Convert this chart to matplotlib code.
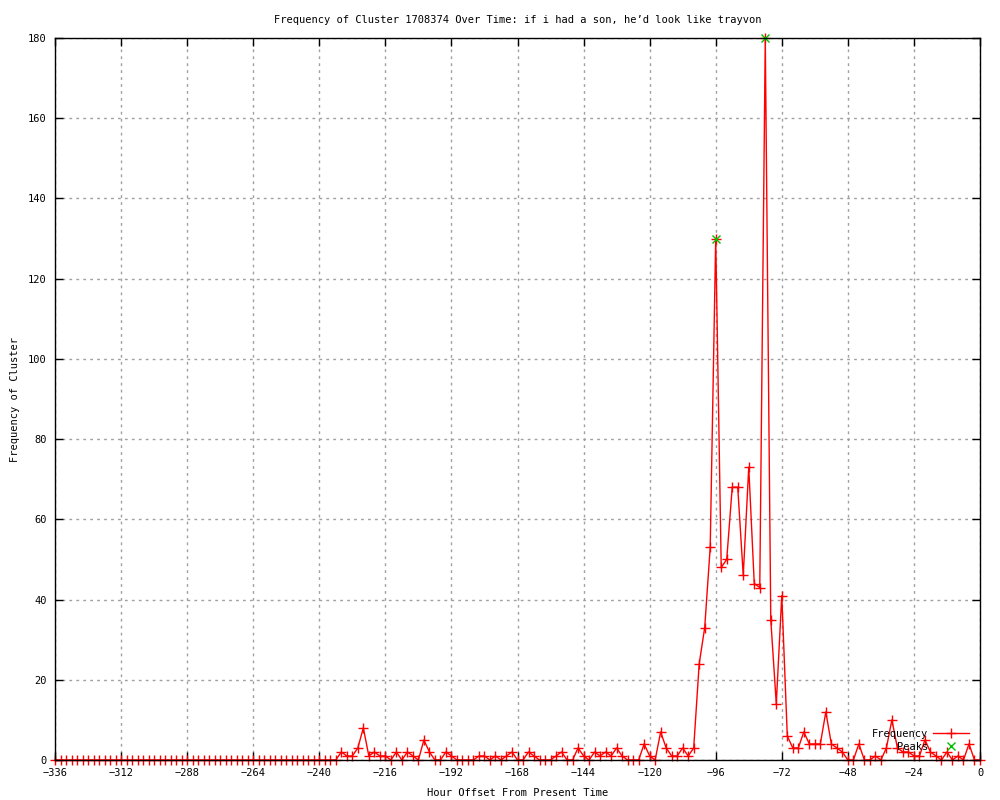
import matplotlib
matplotlib.use('Agg')
import matplotlib.pyplot as plt

# hour offsets, one point every 2 hours
hours = list(range(-336, 1, 2))

# cluster frequency per point
freq = [
    0, 0, 0, 0, 0, 0, 0, 0, 0, 0, 0, 0, 0,  # -336 .. -312
    0, 0, 0, 0, 0, 0, 0, 0, 0, 0, 0, 0,     # -310 .. -288
    0, 0, 0, 0, 0, 0, 0, 0, 0, 0, 0, 0,     # -286 .. -264
    0, 0, 0, 0, 0, 0, 0, 0, 0, 0, 0, 0,     # -262 .. -240
    0, 0, 0,                                # -238 .. -234
    2, 1, 1, 3, 8, 1, 2, 1, 1, 0,
    2, 0, 2, 1, 0, 5, 2, 0, 0, 2,
    1, 0, 0, 0, 0, 1, 1, 0, 1, 0,
    1, 2, 0, 0, 2, 1, 0, 0, 0, 1,
    2, 0, 0, 3, 1, 0, 2, 1, 2, 1,
    3, 1, 0, 0, 0, 4, 1, 0, 7, 3,
    1, 1, 3, 1, 3, 24, 33, 53, 130, 48,
    50, 68, 68, 46, 73, 44, 43, 180, 35, 14,
    41, 6, 3, 3, 7, 4, 4, 4, 12, 4,
    3, 2, 0, 0, 4, 0, 0, 1, 0, 3,
    10, 3, 2, 2, 1, 1, 5, 2, 1, 0,
    2, 0, 1, 0, 4, 0, 0,
]

# detected peaks
peak_hours = [-96, -78]
peak_values = [130, 180]

x_ticks = list(range(-336, 1, 24))
y_ticks = list(range(0, 181, 20))

title = 'Frequency of Cluster 1708374 Over Time: if i had a son, he\u2019d look like trayvon'

plt.rcParams['font.family'] = ['DejaVu Sans Mono']
plt.rcParams['font.size'] = 7.5

fig = plt.figure(figsize=(10, 8), dpi=100)
ax = fig.add_axes([0.055, 0.05, 0.925, 0.9025])

# frequency line with + markers
ax.plot(hours, freq, color='red', lw=1, marker='+', markersize=7, markeredgewidth=1,
        label='Frequency', clip_on=False, zorder=3)
# peaks as green crosses
ax.plot(peak_hours, peak_values, 'x', color='#00c000', markersize=6, markeredgewidth=1,
        label='Peaks', clip_on=False, zorder=4)

ax.set_xlim(-336, 0)
ax.set_ylim(0, 180)
ax.set_xticks(x_ticks)
ax.set_yticks(y_ticks)

ax.grid(True, color='#a0a0a0', linestyle=(0, (2, 3)), linewidth=1)
ax.set_axisbelow(True)
ax.tick_params(direction='in', length=6, width=1, top=True, right=True,
               labelsize=7.5, pad=6, colors='black')
for s in ax.spines.values():
    s.set_linewidth(1)
    s.set_color('black')
    s.set_zorder(5)

ax.set_title(title, fontsize=7.5, pad=11)
ax.set_xlabel('Hour Offset From Present Time', fontsize=7.5, labelpad=7)
ax.set_ylabel('Frequency of Cluster', fontsize=7.5, labelpad=6)

# legend in the lower right, text before the sample like gnuplot
ax.legend(loc='lower right', bbox_to_anchor=(0.9925, 0.006), frameon=False,
          markerfirst=False, fontsize=7.5, handlelength=3.4, handletextpad=0.5,
          borderaxespad=0, labelspacing=0.25)

plt.savefig('out.png', dpi=100)
